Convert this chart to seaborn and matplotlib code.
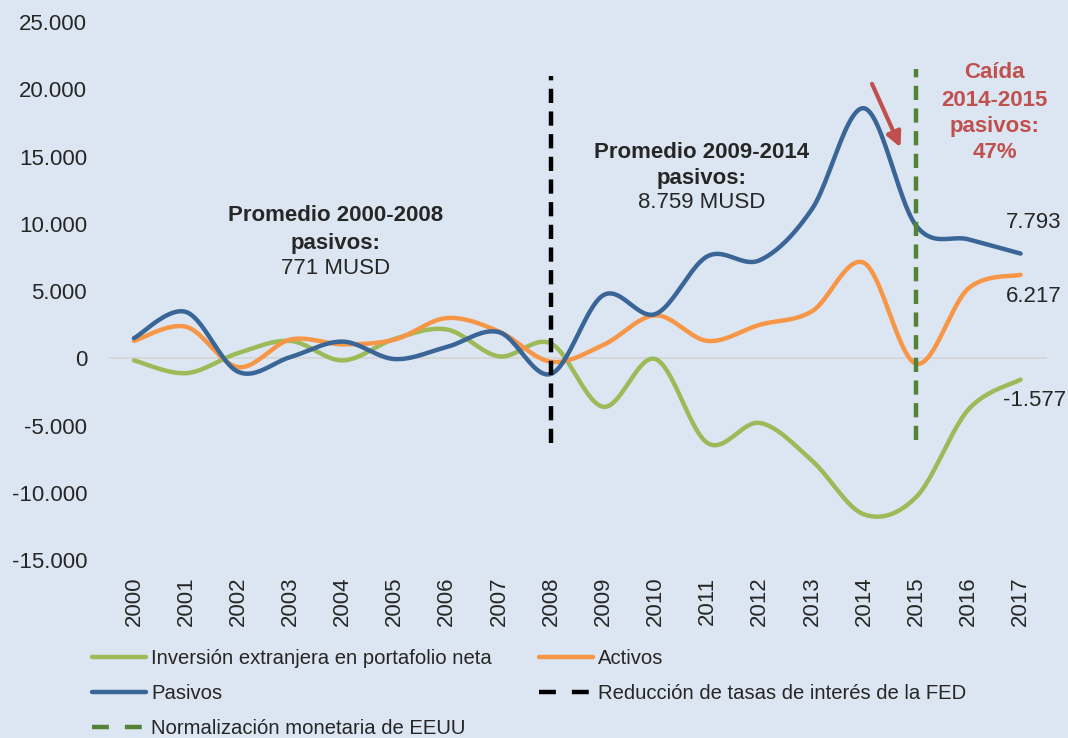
import numpy as np
import pandas as pd
import matplotlib.pyplot as plt
import seaborn as sns
from matplotlib.ticker import FuncFormatter
from matplotlib.lines import Line2D

# data (USD millions)
years = [str(y) for y in range(2000, 2018)]
neta = [-150, -1100, 400, 1300, -150, 1450, 2150, 150, 1100,
        -3600, -50, -6300, -4800, -7600, -11600, -10300, -3800, -1577]
activos = [1300, 2350, -650, 1400, 1050, 1400, 3000, 2000, -250,
           1000, 3200, 1300, 2500, 3500, 7100, -400, 5200, 6217]
pasivos = [1500, 3450, -1000, 100, 1250, -50, 850, 1950, -1150,
           4700, 3300, 7600, 7300, 11100, 18600, 9850, 8850, 7793]

c_neta = "#9BBB59"
c_act = "#F79646"
c_pas = "#3A6597"
c_red = "#C0504D"
c_dgreen = "#538135"
bg = "#DCE6F2"


def smooth(vals, n=24):
    # excel-like smoothed line: cubic bezier, catmull-rom control points
    p = np.array(vals, float)
    x = np.arange(len(p), dtype=float)
    xs, ys = [], []
    last = len(p) - 1
    for i in range(last):
        i0 = max(i - 1, 0)
        i3 = min(i + 2, last)
        b0 = np.array([x[i], p[i]])
        b3 = np.array([x[i + 1], p[i + 1]])
        b1 = b0 + (np.array([x[i + 1], p[i + 1]]) - np.array([x[i0], p[i0]])) / 6
        b2 = b3 - (np.array([x[i3], p[i3]]) - np.array([x[i], p[i]])) / 6
        t = np.linspace(0, 1, n, endpoint=(i == last - 1))[:, None]
        pts = (1 - t) ** 3 * b0 + 3 * (1 - t) ** 2 * t * b1 + 3 * (1 - t) * t ** 2 * b2 + t ** 3 * b3
        xs.extend(pts[:, 0])
        ys.extend(pts[:, 1])
    return xs, ys


sns.set_style("white", {"axes.facecolor": bg, "figure.facecolor": bg})
plt.rcParams["font.family"] = ["Liberation Sans", "DejaVu Sans"]

fig = plt.figure(figsize=(10.68, 7.38), dpi=100)
ax = fig.add_axes([0.101, 0.241, 0.879, 0.729])

ax.axhline(0, color="#D4D4D4", lw=1.2, zorder=1)

series = [("Inversión extranjera en portafolio neta", neta, c_neta),
          ("Activos", activos, c_act),
          ("Pasivos", pasivos, c_pas)]
for name, vals, col in series:
    xs, ys = smooth(vals)
    sns.lineplot(x=xs, y=ys, ax=ax, color=col, lw=3.2, sort=False,
                 estimator=None, label=name, zorder=3)

# vertical reference lines
lbl_fed = "Reducción de tasas de interés de la FED"
lbl_eeuu = "Normalización monetaria de EEUU"
ax.plot([8, 8], [-6300, 21000], color="black", lw=3.2,
        ls=(0, (3.2, 1.9)), zorder=4)
ax.plot([15, 15], [-6100, 21500], color=c_dgreen, lw=3.2,
        ls=(0, (3.2, 1.9)), zorder=4)

ax.set_xlim(-0.5, 17.5)
ax.set_ylim(-15000, 25000)
ax.set_yticks(range(-15000, 25001, 5000))
ax.yaxis.set_major_formatter(FuncFormatter(lambda v, _: f"{int(v):,}".replace(",", ".")))
ax.set_xticks(range(len(years)))
ax.set_xticklabels(years, rotation=90)
ax.tick_params(axis="y", length=0, pad=15, labelsize=16)
ax.tick_params(axis="x", length=0, pad=12, labelsize=16)
for s in ax.spines.values():
    s.set_visible(False)
ax.set_xlabel("")
ax.set_ylabel("")

# annotations
kw = dict(ha="center", va="center", fontsize=16)
ax.text(3.87, 10630, "Promedio 2000-2008", fontweight="bold", **kw)
ax.text(3.87, 8550, "pasivos:", fontweight="bold", **kw)
ax.text(3.87, 6690, "771 MUSD", **kw)
ax.text(10.88, 15300, "Promedio 2009-2014", fontweight="bold", **kw)
ax.text(10.88, 13380, "pasivos:", fontweight="bold", **kw)
ax.text(10.88, 11600, "8.759 MUSD", **kw)
for yy, t in zip([21260, 19180, 17250, 15300], ["Caída", "2014-2015", "pasivos:", "47%"]):
    ax.text(16.5, yy, t, color=c_red, fontweight="bold", **kw)
ax.annotate("", xy=(14.72, 15500), xytext=(14.13, 20600),
            arrowprops=dict(arrowstyle="-|>", color=c_red, lw=3, mutation_scale=22))

ax.text(17.26, 10100, "7.793", **kw)
ax.text(17.26, 4600, "6.217", **kw)
ax.text(17.26, -3120, "-1.577", **kw)

# legend: rows Neta/Activos, Pasivos/FED, EEUU
h, l = ax.get_legend_handles_labels()
h_fed = Line2D([], [], color="black", lw=3.2, ls=(0, (3.8, 3.6)))
h_eeuu = Line2D([], [], color=c_dgreen, lw=3.2, ls=(0, (3.8, 3.6)))
ax.legend([h[0], h[2], h_eeuu, h[1], h_fed],
          [l[0], l[2], lbl_eeuu, l[1], lbl_fed], ncol=2,
          loc="upper left", bbox_to_anchor=(-0.036, -0.132), frameon=False,
          fontsize=14.6, handlelength=2.66, handletextpad=0.25,
          columnspacing=2.3, labelspacing=0.78)

fig.savefig("out.png", dpi=100, facecolor=bg)
